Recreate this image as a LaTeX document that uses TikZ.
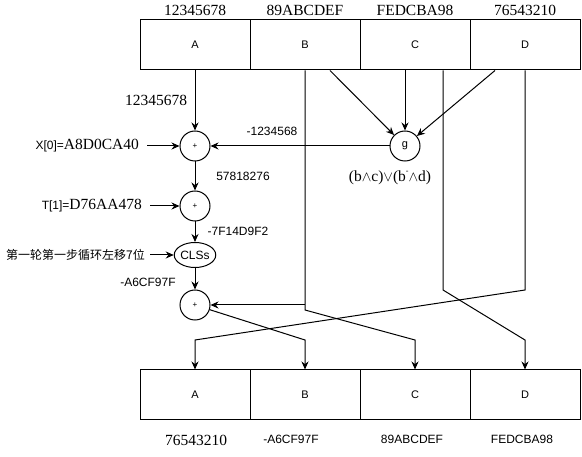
\documentclass[tikz,border=0pt]{standalone}
\usepackage{fontspec}
\setmainfont{Liberation Serif}
\setsansfont{Liberation Sans}
\newfontfamily\cjk{Noto Sans CJK SC}
\usetikzlibrary{positioning,arrows.meta,shapes.geometric}
\tikzset{
  reg/.style={draw,line width=1pt,minimum width=110pt,minimum height=50pt,inner sep=0pt,font=\sffamily\fontsize{11}{13}\selectfont},
  op/.style={draw,circle,line width=1pt,minimum size=30pt,inner sep=0pt,font=\sffamily\fontsize{8}{10}\selectfont},
  hexs/.style={inner sep=0pt,font=\sffamily\fontsize{12}{14}\selectfont},
  hexr/.style={inner sep=0pt,font=\rmfamily\fontsize{15.5}{18}\selectfont},
  arr/.style={line width=1pt,-{Stealth[length=8pt,width=7pt]}},
}
% b 上的小横线
\newcommand{\bneg}{b\raisebox{1.1ex}{\fontsize{8}{8}\selectfont -}}
\begin{document}
\begin{tikzpicture}[x=1pt,y=-1pt]
    \useasboundingbox (0,0) rectangle (582,457);
    % 上下两排寄存器
    \foreach \n/\x in {A/195,B/305,C/415,D/525}{
        \node[reg] (\n1) at (\x,45) {\n};
        \node[reg] (\n2) at (\x,395) {\n};
    }
    \foreach \n/\t in {A/12345678,B/89ABCDEF,C/FEDCBA98,D/76543210}
        \node[hexr,above=4pt of \n1] (top\n) {\t};
    \node[hexr] (botA) at (196,440) {76543210};
    \node[hexs] (botB) at (291,439) {-A6CF97F};
    \node[hexs] (botC) at (412,439) {89ABCDEF};
    \node[hexs] (botD) at (522,439) {FEDCBA98};

    % 运算节点
    \node[op] (p1) at (195,146) {+};
    \node[op] (p2) at (195,206) {+};
    \node[draw,ellipse,line width=1pt,minimum width=40pt,minimum height=25pt,inner sep=0pt,font=\sffamily\fontsize{12}{14}\selectfont] (cls) at (195,255) {CLSs};
    \node[op] (p4) at (195,305) {+};
    \node[op,font=\sffamily\fontsize{11}{13}\selectfont] (g) at (405,146) {g};

    % 左侧输入
    \node[hexr,anchor=east] (x0) at (139,146) {{\sffamily\fontsize{12}{14}\selectfont X[0]=}A8D0CA40};
    \node[hexr,anchor=east] (t1) at (142,206) {{\sffamily\fontsize{12}{14}\selectfont T[1]=}D76AA478};
    \node[inner sep=0pt,anchor=east,font=\cjk\fontsize{12}{14}\selectfont] (rot) at (145,255) {第一轮第一步循环左移7位};
    \draw[arr,shorten <=8pt] (x0) -- (p1);
    \draw[arr,shorten <=8pt] (t1) -- (p2);
    \draw[arr,shorten <=5pt] (rot) -- (cls);

    % 主链
    \draw[arr] (A1) -- (p1);
    \draw[arr] (g) -- (p1);
    \draw[arr] (p1) -- (p2);
    \draw[arr] (p2) -- (cls);
    \draw[arr] (cls) -- (p4);
    \draw[arr] ([xshift=25pt]B1.south) -- (g);
    \draw[arr] ([xshift=-10pt]C1.south) -- (g);
    \draw[arr] ([xshift=-30pt]D1.south) -- (g);

    % 中间值
    \node[hexr] (vA) at (156,100) {12345678};
    \node[hexs] (vg) at (272,131) {-1234568};
    \node[hexs] (v1) at (243,176) {57818276};
    \node[hexs] (v2) at (238,231) {-7F14D9F2};
    \node[hexs] (v3) at (148,282) {-A6CF97F};
    \node[hexr] (fg) at (390,178) {(b$\wedge$c)$\vee$(\bneg$\wedge$d)};

    % 循环置换
    \coordinate (bt) at (305,310);
    \coordinate (cb) at (415,340);
    \coordinate (ct) at (443,290);
    \coordinate (dc) at (525,340);
    \coordinate (dt) at (525,290);
    \coordinate (da) at (195,340);
    \coordinate (pb) at (305,340);
    \draw[arr] (B1.south) -- (bt) -- (cb) -- (C2.north);
    \draw[arr] (bt |- p4) -- (p4);
    \draw[arr] ([xshift=28pt]C1.south) -- (ct) -- (dc) -- (D2.north);
    \draw[arr] (D1.south) -- (dt) -- (da) -- (A2.north);
    \draw[arr] (p4) -- (pb) -- (B2.north);
\end{tikzpicture}
\end{document}
